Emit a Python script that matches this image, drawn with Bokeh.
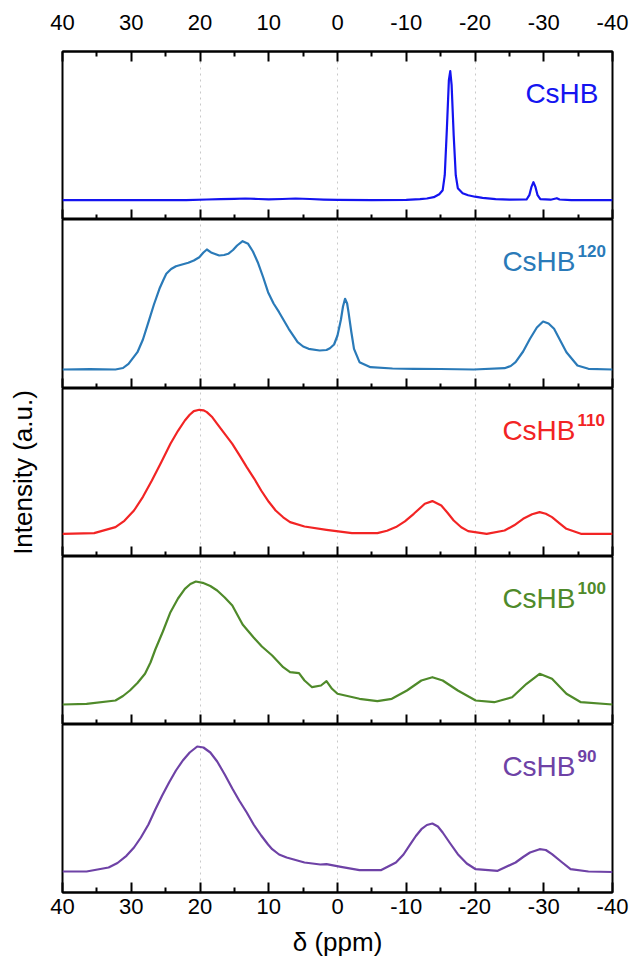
from bokeh.plotting import figure
from bokeh.models import Range1d, LinearAxis, FixedTicker, Label, CustomJSTickFormatter
from bokeh.layouts import column
from bokeh.embed import file_html
from bokeh.resources import INLINE

# ---------------- data ----------------
names = ["CsHB", "CsHB", "CsHB", "CsHB", "CsHB"]
sups = ["", "120", "110", "100", "90"]
colors = ["#1414f0", "#2a7ab8", "#f22424", "#4f8a2a", "#6e42a6"]

hb_ppm = [40, 30, 22, 19, 17, 15, 13.4, 11.5, 10, 8, 6.1, 4, 2, 0, -5, -10, -12, -13, -14, -14.8,
          -15.3, -15.6, -15.9, -16.2, -16.4, -16.6, -16.9, -17.2, -17.5, -18.2, -19, -20, -21.1, -23,
          -25, -27.5, -27.9, -28.2, -28.5, -28.8, -29.1, -29.5, -31, -31.6, -31.9, -32.3, -34, -40]
hb_int = [0, 0, 0, 0.7, 1, 1.3, 1.7, 1.2, 0.8, 1.2, 1.7, 1.2, 0.6, 0.3, 0, 0.3, 1, 1.7, 3, 6,
          10, 25, 70, 120, 129, 115, 65, 25, 12, 7, 5, 3.5, 2.3, 1,
          0.5, 0.7, 5, 13, 18, 13, 5, 1, 0.5, 1.5, 2, 0.7, 0, 0]

hb120_ppm = [40, 36, 32.3, 31.2, 30.4, 29.1, 28.3, 27.5, 26.7, 25.9, 25.3, 24.9, 24.2, 23.5, 22.6,
             21.7, 20.9, 20.1, 19.5, 19.0, 18.3, 17.2, 16.5, 15.9, 15.2, 14.6, 13.8, 13.0, 12.3,
             11.6, 10.8, 10.1, 9.3, 8.5, 7.8, 7.1, 5.8, 5.0, 4.2, 2.6, 1.6, 1.1, 0.5, 0.0, -0.5,
             -0.8, -1.1, -1.4, -1.6, -2.0, -2.4, -3.2, -4.8, -8, -11.1, -15, -19.8, -24.3, -25.2,
             -25.9, -27.0, -28.0, -29.0, -29.9, -30.7, -31.5, -32.4, -33.3, -34.9, -36.5, -40]
hb120_int = [0, 0.3, 0, 1.5, 5.7, 17.3, 30, 47.3, 65, 80.7, 90, 95.7, 100.5, 103.3, 105,
             106.7, 109, 112.3, 117, 120, 116.7, 114, 114.5, 115.7, 119.5, 124, 128.3, 125.7, 118,
             107.3, 92, 77.3, 66, 57.3, 49, 40.7, 27.3, 23, 20.7, 19, 19.5, 21.3, 25, 34, 50,
             63, 70.7, 66, 57.3, 38, 20.7, 7.3, 2.3, 1, 0.7, 0.5, 0, 1.3, 3.5,
             7.3, 18, 30.7, 42, 48, 46, 40.7, 29, 17.3, 4, 0.7, 0]

hb110_ppm = [40, 35.4, 32.3, 31, 29.6, 28.3, 27, 25.6, 24.3, 23.2, 22.2, 21.5, 20.9, 20.1, 19.5,
             19, 18.2, 17.5, 16.4, 15.3, 14.2, 13.2, 12.1, 11.1, 10, 9, 7.9, 6.9, 4.8, 1.6, -2.1,
             -5.8, -7.2, -8.5, -9.8, -11.1, -12.7, -13.8, -15.1, -16.0, -16.9, -18, -19, -21.7,
             -24.3, -25.7, -27, -28.3, -29.4, -30.3, -31.2, -32.3, -33.3, -35.4, -40]
hb110_int = [0, 0.7, 6.7, 13, 23.3, 37, 53.3, 72, 90, 103, 113.3, 119, 122.7, 124, 123.5,
             121.7, 116.5, 110, 100, 90, 78, 66.7, 55, 43.3, 32, 23.3, 16.5, 11.7, 7.3, 4, 0.7,
             0.7, 3, 6.7, 12.5, 20, 30, 32.7, 28.3, 21, 13.3, 6.5, 2.7, 0,
             3.3, 8.5, 15, 19.5, 21.7, 20, 16.7, 10.5, 5, 0, 0]

hb100_ppm = [40, 36.5, 32.3, 31.2, 30.2, 29.1, 28, 27.2, 26.5, 25.4, 24.3, 23.2, 22.2, 21.4, 20.6,
             19.6, 18.5, 17.5, 16.4, 15.3, 13.8, 12.2, 11, 9.5, 7.9, 6.9, 5.6, 4.8, 3.7, 2.4, 1.6,
             0.8, 0, -3.2, -5.8, -7.9, -10.1, -12.2, -13.8, -15.3, -17.5, -20.1, -22.8, -25.4,
             -27.5, -29.4, -31.2, -33.3, -35.4, -40]
hb100_int = [0, 0.7, 4, 8.5, 14, 21.5, 30.7, 42, 55, 73, 92.3, 106, 115.7, 120.5, 123,
             121.7, 118.5, 114, 107, 99, 80, 67, 58, 49, 37.3, 32.3, 31.3, 24, 17.3, 19, 23.3,
             15.7, 10.7, 5.7, 3.3, 5.7, 14, 24, 27.3, 24, 14, 4, 2.3, 7.3,
             20.7, 30.7, 25.7, 10.7, 2.3, 0]

hb90_ppm = [40, 36.5, 33.3, 32, 30.7, 29.6, 28.6, 27.5, 26.5, 25.5, 24.5, 23.5, 22.5, 21.5, 20.4,
            19.5, 18.5, 17.5, 16.4, 15.3, 14.3, 13.2, 12.2, 11.1, 10.1, 9.5, 8.5, 7.4, 4.8, 2.5,
            1.6, -0.5, -3.2, -6.3, -8.5, -9.6, -10.6, -11.4, -12.2, -13.0, -13.8, -14.6, -15.3,
            -16.4, -17.5, -18.8, -20.1, -23.3, -25.9, -27, -28, -29.4, -30.3, -31.2, -32.6,
            -33.9, -36.5, -40]
hb90_int = [0, 0, 4, 8.5, 15.7, 24, 34, 47, 62, 76, 89, 101, 111, 119, 125,
            124, 119, 110, 97, 83, 71, 59, 47, 36, 27, 22.3, 17, 14, 9, 7,
            7.3, 4.7, 1.3, 1.3, 9, 17, 27.3, 35.5, 42.3, 46.5, 48, 45, 39,
            28, 17.3, 8, 2.3, 0.7, 9, 14.5, 19, 22.3, 21.5, 17.3, 9.5,
            2.3, 0, -0.5]

series_ppm = [hb_ppm, hb120_ppm, hb110_ppm, hb100_ppm, hb90_ppm]
series_int = [hb_int, hb120_int, hb110_int, hb100_int, hb90_int]

x_major = [40, 30, 20, 10, 0, -10, -20, -30, -40]
x_minor = [35, 25, 15, 5, -5, -15, -25, -35]
x_grid = [20, 0, -20]
x_title = "δ (ppm)"
y_title = "Intensity (a.u.)"

# ---------------- layout / style ----------------
FONT = "Liberation Sans"
W = 630
LEFT, RIGHT = 62, 18
TOP_PAD = 51
BOTTOM_PAD = 82
FRAME_H = [168, 169, 168, 168, 168]
BASE = [19.3, 19, 22.7, 20, 21]   # baseline height above each panel's bottom edge (px)

x_range = Range1d(40, -40)


def px_to_ppm(px):
    return 40 - (px - LEFT) * 80.0 / (W - LEFT - RIGHT)


def style_x_axis(ax, show_labels):
    ax.ticker = FixedTicker(ticks=x_major, minor_ticks=x_minor)
    ax.major_tick_in = 10
    ax.major_tick_out = 0
    ax.minor_tick_in = 5
    ax.minor_tick_out = 0
    ax.major_tick_line_width = 2
    ax.minor_tick_line_width = 2
    ax.major_tick_line_color = "black"
    ax.minor_tick_line_color = "black"
    ax.axis_line_width = 2
    ax.axis_line_color = "black"
    if show_labels:
        ax.formatter = CustomJSTickFormatter(code="return String(Math.round(tick));")
        ax.major_label_text_font = FONT
        ax.major_label_text_font_size = "22px"
        ax.major_label_text_color = "black"
    else:
        ax.formatter = CustomJSTickFormatter(code="return '';")
        ax.major_label_standoff = 0


panels = []
for i in range(5):
    h = FRAME_H[i]
    base = BASE[i]
    top = TOP_PAD if i == 0 else 0
    bottom = BOTTOM_PAD if i == 4 else 0
    p = figure(width=W, height=h + top + bottom, x_range=x_range,
               y_range=Range1d(-base, h - base), title=None,
               output_backend="svg", toolbar_location=None, y_axis_location=None,
               min_border_left=LEFT, min_border_right=RIGHT,
               min_border_top=top, min_border_bottom=bottom)
    p.outline_line_color = "black"
    p.outline_line_width = 2
    p.background_fill_color = "white"
    p.border_fill_color = "white"

    p.xgrid.ticker = FixedTicker(ticks=x_grid)
    p.xgrid.grid_line_color = "#c9c9c9"
    p.xgrid.grid_line_dash = "dotted"
    p.xgrid.grid_line_width = 1
    p.ygrid.visible = False

    style_x_axis(p.xaxis[0], i == 4)
    if i == 4:
        ax = p.xaxis[0]
        ax.major_label_standoff = 6
        ax.axis_label = x_title
        ax.axis_label_text_font = FONT
        ax.axis_label_text_font_size = "26px"
        ax.axis_label_text_font_style = "normal"
        ax.axis_label_text_color = "black"
        ax.axis_label_standoff = 10

    if i == 0:
        ax_top = LinearAxis()
        style_x_axis(ax_top, True)
        ax_top.major_label_standoff = 22
        p.add_layout(ax_top, "above")

    if i == 2:
        ay = LinearAxis(axis_label=y_title, ticker=FixedTicker(ticks=[]),
                        major_tick_in=0, major_tick_out=0, minor_tick_in=0, minor_tick_out=0,
                        axis_line_color=None,
                        major_label_standoff=0, axis_label_standoff=25,
                        axis_label_text_font=FONT, axis_label_text_font_size="26px",
                        axis_label_text_font_style="normal", axis_label_text_color="black")
        p.add_layout(ay, "left")

    p.line(series_ppm[i], series_int[i], line_color=colors[i], line_width=2.2,
           line_join="round")

    if sups[i]:
        p.add_layout(Label(x=px_to_ppm(575), y=h - base - 42, text=names[i],
                           text_font=FONT, text_font_size="28px", text_color=colors[i],
                           text_align="right", text_baseline="alphabetic"))
        p.add_layout(Label(x=px_to_ppm(577), y=h - base - 31, text=sups[i],
                           text_font=FONT, text_font_size="17px", text_font_style="bold",
                           text_color=colors[i], text_align="left", text_baseline="alphabetic"))
    else:
        p.add_layout(Label(x=px_to_ppm(598), y=h - base - 42, text=names[i],
                           text_font=FONT, text_font_size="28px", text_color=colors[i],
                           text_align="right", text_baseline="alphabetic"))
    panels.append(p)

layout = column(*panels, spacing=0)
open("out.html", "w").write(file_html(layout, INLINE))
